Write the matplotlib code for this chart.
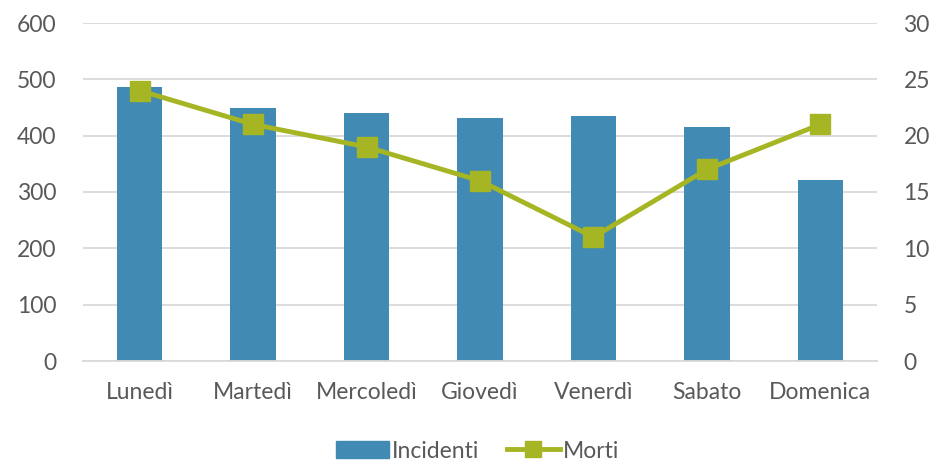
import matplotlib.pyplot as plt
from matplotlib.lines import Line2D
from matplotlib.patches import Patch

giorni = ["Lunedì", "Martedì", "Mercoledì", "Giovedì", "Venerdì", "Sabato", "Domenica"]
incidenti = [486, 449, 440, 431, 435, 415, 321]
morti = [24, 21, 19, 16, 11, 17, 21]

bar_col = "#418AB3"
line_col = "#A5B523"
txt_col = "#595959"
grid_col = "#D9D9D9"

plt.rcParams['font.family'] = ['Lato', 'DejaVu Sans']

fig = plt.figure(figsize=(9.31, 4.62), dpi=100)
ax = fig.add_axes([83 / 931, 1 - 361 / 462, 794 / 931, 338 / 462])
x = list(range(len(giorni)))
ax.bar(x, incidenti, width=0.4, color=bar_col, zorder=2)
ax.set_ylim(0, 600)
ax.set_yticks(range(0, 601, 100))
ax.set_xlim(-0.5, len(giorni) - 0.5)
ax.set_xticks(x)
ax.set_xticklabels(giorni)
ax.grid(axis='y', color=grid_col, lw=1.3, zorder=0)
for s in ['top', 'left', 'right']:
    ax.spines[s].set_visible(False)
ax.spines['bottom'].set_color(grid_col)
ax.spines['bottom'].set_linewidth(1.3)
ax.tick_params(length=0, labelsize=16.5, colors=txt_col, pad=19)
ax.tick_params(axis='x', pad=15)

ax2 = ax.twinx()
ax2.plot(x, morti, color=line_col, lw=3.5, marker='s', ms=14, zorder=3)
ax2.set_ylim(0, 30)
ax2.set_yticks(range(0, 31, 5))
for s in ['top', 'left', 'right', 'bottom']:
    ax2.spines[s].set_visible(False)
ax2.tick_params(length=0, labelsize=16.5, colors=txt_col, pad=19)

handles = [Patch(color=bar_col),
           Line2D([], [], color=line_col, lw=3.5, marker='s', ms=11)]
fig.legend(handles, ["Incidenti", "Morti"], loc='center', ncol=2,
           bbox_to_anchor=(0.513, 1 - 451 / 462), frameon=False, fontsize=16.5,
           labelcolor=txt_col, handlelength=2.3, handleheight=0.8,
           handletextpad=0.15, columnspacing=1.2)

fig.savefig("out.png", dpi=100)
